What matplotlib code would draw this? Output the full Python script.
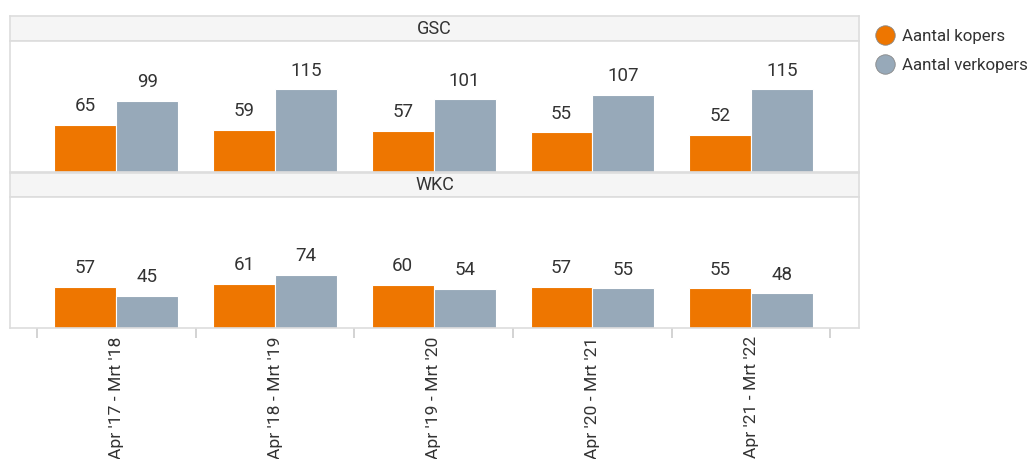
import matplotlib
matplotlib.use("Agg")
import matplotlib.pyplot as plt
import numpy as np
from matplotlib.lines import Line2D

plt.rcParams['font.family'] = ['Roboto', 'DejaVu Sans']

categories = ["Apr '17 - Mrt '18", "Apr '18 - Mrt '19", "Apr '19 - Mrt '20",
              "Apr '20 - Mrt '21", "Apr '21 - Mrt '22"]
panels = ["GSC", "WKC"]
kopers = {"GSC": [65, 59, 57, 55, 52], "WKC": [57, 61, 60, 57, 55]}
verkopers = {"GSC": [99, 115, 101, 107, 115], "WKC": [45, 74, 54, 55, 48]}
series_names = ["Aantal kopers", "Aantal verkopers"]
colors = ["#EE7600", "#97A9B9"]

W, H = 1029, 459
fig = plt.figure(figsize=(W / 100, H / 100), dpi=100)

def fx(px):
    return px / W

def fy(top, bottom):
    return (H - bottom) / H, (bottom - top) / H

left, right = 10, 859
layout = [((16, 41), (41, 172)), ((173, 197), (197, 328))]
border = "#dddddd"
x = np.arange(len(categories))
bw = 0.39
xlim = (-0.67, 4.68)
ymax = 182
txt = "#333333"

for i, (panel, ((st, sb), (pt, pb))) in enumerate(zip(panels, layout)):
    b, h = fy(st, sb)
    sax = fig.add_axes([fx(left), b, fx(right - left), h])
    sax.set_facecolor("#f5f5f5")
    sax.set_xticks([]); sax.set_yticks([])
    for sp in sax.spines.values():
        sp.set_color(border); sp.set_linewidth(1.2)
    sax.text(0.5, 0.5, panel, ha="center", va="center", fontsize=13, color=txt,
             transform=sax.transAxes)

    b, h = fy(pt, pb)
    ax = fig.add_axes([fx(left), b, fx(right - left), h])
    for sp in ax.spines.values():
        sp.set_color(border); sp.set_linewidth(1.2)
    k = kopers[panel]; v = verkopers[panel]
    bars1 = ax.bar(x - bw / 2, k, width=bw, color=colors[0], edgecolor="white", linewidth=0.8)
    bars2 = ax.bar(x + bw / 2, v, width=bw, color=colors[1], edgecolor="white", linewidth=0.8)
    for bars, vals in ((bars1, k), (bars2, v)):
        for rect, val in zip(bars, vals):
            ax.annotate(str(val), (rect.get_x() + rect.get_width() / 2, val),
                        xytext=(0, 7), textcoords="offset points",
                        ha="center", va="bottom", fontsize=13.5, color=txt)
    ax.set_xlim(*xlim)
    ax.set_ylim(0, ymax)
    ax.set_yticks([])
    if i == 1:
        ax.set_xticks(np.arange(len(categories) + 1) - 0.5)
        ax.set_xticklabels([])
        ax.tick_params(axis="x", length=7, width=1.2, color="#cccccc", direction="out")
        ax.set_xticks(x, minor=True)
        ax.set_xticklabels(categories, minor=True, rotation=90, fontsize=12.6, color=txt,
                           va="top", ha="center")
        ax.tick_params(axis="x", which="minor", length=0, pad=6)
    else:
        ax.set_xticks([])

handles = [Line2D([0], [0], marker="o", linestyle="none", markersize=14,
                  markerfacecolor=c, markeredgecolor="#888888", markeredgewidth=0.6)
           for c in colors]
fig.legend(handles, series_names, loc="upper left", bbox_to_anchor=(fx(868), 1 - 22 / H),
           frameon=False, fontsize=12.2, handletextpad=0.4, labelspacing=0.85,
           borderaxespad=0, handlelength=1.2, labelcolor=txt)

fig.savefig("out.png", dpi=100)
